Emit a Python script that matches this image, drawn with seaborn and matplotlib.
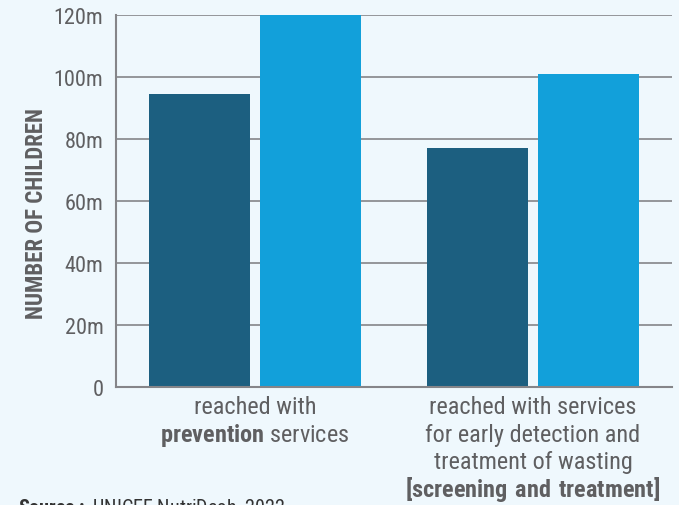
import pandas as pd
import numpy as np
import seaborn as sns
import matplotlib.pyplot as plt
import matplotlib.transforms as mtransforms
from matplotlib import font_manager

# data (millions of children)
categories = ["prevention", "screening"]
series = ["Series 1", "Series 2"]
values_series1 = [94.5, 77]
values_series2 = [120, 101]
label_lines = [
    ["reached with", "$\\bf{prevention}$ services"],
    ["reached with services", "for early detection and", "treatment of wasting",
     "$\\bf{[screening\\ and\\ treatment]}$"],
]
y_ticks = [0, 20, 40, 60, 80, 100, 120]
y_tick_labels = ["0", "20m", "40m", "60m", "80m", "100m", "120m"]

df = pd.DataFrame({
    "category": categories * 2,
    "series": [series[0]] * 2 + [series[1]] * 2,
    "value": values_series1 + values_series2,
})

# condensed font if available
names = {f.name for f in font_manager.fontManager.ttflist}
font = "Roboto Condensed" if "Roboto Condensed" in names else "Roboto"

bg = "#eff8fd"
txt = "#5f5f61"
grid = "#858589"

sns.set_style("white")
plt.rcParams["font.family"] = [font, "DejaVu Sans"]
plt.rcParams["mathtext.fontset"] = "custom"
plt.rcParams["mathtext.rm"] = font
plt.rcParams["mathtext.bf"] = font + ":bold"

fig = plt.figure(figsize=(6.79, 5.06), dpi=100, facecolor=bg)
ax = fig.add_axes([116 / 679, 1 - 387.7 / 506, 556 / 679, (387.7 - 16) / 506])
ax.set_facecolor(bg)

sns.barplot(data=df, x="category", y="value", hue="series",
            palette=["#1c5f80", "#12a0da"], saturation=1,
            width=0.8, gap=0.09, legend=False, ax=ax, zorder=2, linewidth=0)

ax.set_ylim(0, 120)
ax.set_xlim(-0.5, 1.5)
ax.set_yticks(y_ticks)
ax.set_yticklabels(y_tick_labels, fontsize=16, color=txt)
ax.set_xticks([0, 1])
ax.set_xticklabels([])
ax.tick_params(axis="both", length=0)
ax.tick_params(axis="y", pad=9)

# category labels, one text per line
trans = mtransforms.blended_transform_factory(ax.transData, fig.transFigure)
for i, lines in enumerate(label_lines):
    for j, line in enumerate(lines):
        ax.text(i, 1 - (408 + 27.3 * j) / 506, line, transform=trans,
                ha="center", va="center", fontsize=17.5, color=txt)

ax.yaxis.grid(True, color=grid, linewidth=1.2)
ax.set_axisbelow(True)
for s in ["top", "right"]:
    ax.spines[s].set_visible(False)
for s in ["left", "bottom"]:
    ax.spines[s].set_color(grid)
    ax.spines[s].set_linewidth(1.5)

ax.set_xlabel("")
ax.set_ylabel("NUMBER OF CHILDREN", fontsize=16.5, fontweight="bold", color=txt)
ax.yaxis.set_label_coords(-(116 - 48) / 556, 0.469)

fig.text(18 / 679, 1 - 514 / 506, "$\\bf{Source:}$ UNICEF NutriDash, 2022",
         fontsize=14.5, color="#333333", va="baseline")

fig.savefig("out.png", dpi=100, facecolor=bg)
